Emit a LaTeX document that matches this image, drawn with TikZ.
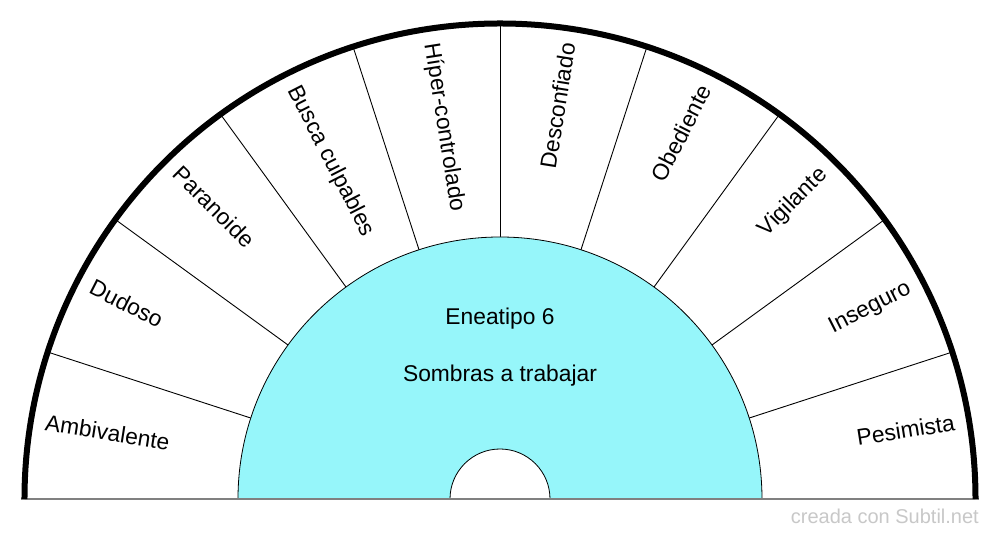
\documentclass[tikz,border=0pt]{standalone}
\usepackage{fontspec}
\setmainfont{Liberation Sans}
\definecolor{cyanfill}{RGB}{150,246,250}
\definecolor{markgray}{RGB}{200,200,200}
\begin{document}
\begin{tikzpicture}[x=1pt,y=1pt,
  lbl/.style={inner sep=0pt, text height=0.7em, text depth=0pt, font=\fontsize{22.8}{27}\selectfont},
  ctr/.style={inner sep=0pt, anchor=base, font=\fontsize{22.8}{27}\selectfont},
  spoke/.style={line width=0.9pt}]
\useasboundingbox (-500,-41) rectangle (500,499);
\fill[white] (-500,-41) rectangle (500,499);
\foreach \a in {18,36,...,162} \draw[spoke] (\a:262) -- (\a:474);
\path[fill=cyanfill, draw=black, line width=0.8pt] (-262,0) arc[start angle=180,end angle=0,radius=262] -- (50,0) arc[start angle=0,end angle=180,radius=50] -- cycle;
\draw[gray, line width=2pt] (-479,0) -- (479,0);
\draw[line width=6pt] (-475.5,0) arc[start angle=180,end angle=0,radius=475.5];
% left side labels
\node[lbl, anchor=west, rotate=-9]  (l1) at (171:461) {Ambivalente};
\node[lbl, anchor=west, rotate=-27] (l2) at (153:461) {Dudoso};
\node[lbl, anchor=west, rotate=-45] (l3) at (135:461) {Paranoide};
\node[lbl, anchor=west, rotate=-63] (l4) at (117:461) {Busca culpables};
\node[lbl, anchor=west, rotate=-81] (l5) at (99:461) {Híper-controlado};
% right side labels
\node[lbl, anchor=east, rotate=81] (l6) at (81:461) {Desconfiado};
\node[lbl, anchor=east, rotate=63] (l7) at (63:461) {Obediente};
\node[lbl, anchor=east, rotate=45] (l8) at (45:461) {Vigilante};
\node[lbl, anchor=east, rotate=27] (l9) at (27:461) {Inseguro};
\node[lbl, anchor=east, rotate=9]  (l10) at (9:461) {Pesimista};
% center text
\node[ctr] (t1) at (0,174) {Eneatipo 6};
\node[ctr] (t2) at (0,117) {Sombras a trabajar};
% watermark
\node[inner sep=0pt, anchor=base east, text=markgray, font=\fontsize{20}{24}\selectfont] (wm) at (479,-25) {creada con Subtil.net};
\end{tikzpicture}
\end{document}
